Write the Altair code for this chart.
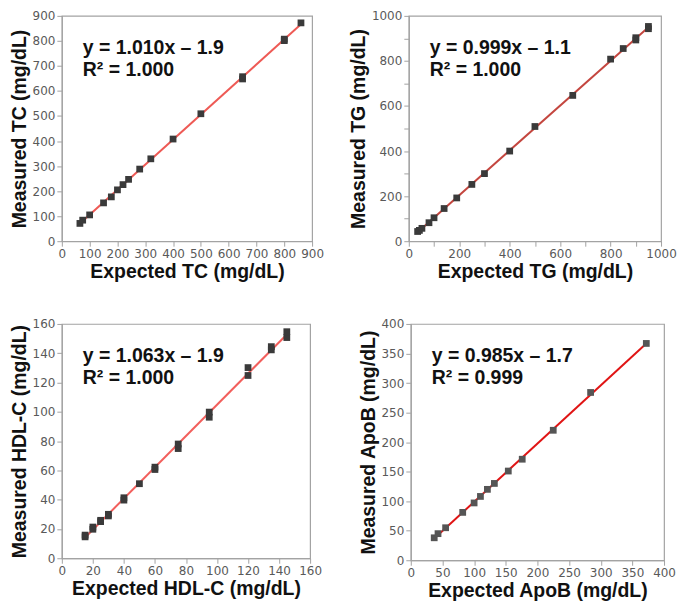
import altair as alt
import pandas as pd

# ---- data ----
tc_x = [65, 75, 100, 150, 178, 200, 220, 240, 280, 320, 400, 500, 650, 650, 800, 800, 860]
tc_y = [71, 84, 105, 153, 177, 205, 226, 247, 288, 329, 408, 509, 648, 657, 801, 807, 872]

tg_x = [35, 42, 52, 80, 100, 140, 190, 250, 300, 400, 500, 650, 800, 850, 900, 900, 950, 950]
tg_y = [43, 48, 57, 82, 104, 145, 192, 252, 300, 400, 509, 647, 808, 855, 893, 903, 943, 953]

hdl_x = [15, 15, 20, 20, 25, 25, 30, 30, 40, 40, 50, 60, 60, 75, 75, 95, 95,
         120, 120, 135, 135, 145, 145]
hdl_y = [14.6, 15.8, 19.8, 21.3, 25.0, 25.9, 28.9, 30.0, 39.7, 41.3, 50.9, 60.6, 62.2,
         74.9, 78.0, 96.3, 99.8, 124.8, 130.2, 142.3, 144.5, 150.7, 154.7]

apob_x = [37, 43, 55, 82, 100, 110, 121, 132, 154, 176, 225, 284, 372]
apob_y = [38, 45, 55, 81, 97, 108, 120, 130, 151, 171, 220, 284, 367]

titles_x = ["Expected TC (mg/dL)", "Expected TG (mg/dL)",
            "Expected HDL-C (mg/dL)", "Expected ApoB (mg/dL)"]
titles_y = ["Measured TC (mg/dL)", "Measured TG (mg/dL)",
            "Measured HDL-C (mg/dL)", "Measured ApoB (mg/dL)"]
eq_lines = [("y = 1.010x \u2013 1.9", "R\u00b2 = 1.000"),
            ("y = 0.999x \u2013 1.1", "R\u00b2 = 1.000"),
            ("y = 1.063x \u2013 1.9", "R\u00b2 = 1.000"),
            ("y = 0.985x \u2013 1.7", "R\u00b2 = 0.999")]

GRAY = "#a3a3a3"


def panel(xs, ys, dmax, step, labstep, xtitle, ytitle, eq, linecolor, ptcolor, w, h):
    df = pd.DataFrame({"x": xs, "y": ys})
    vals = list(range(0, dmax + 1, step))
    lab = f"datum.value % {labstep} == 0 ? datum.label : ''"
    common = dict(values=vals, labelExpr=lab, format="d", grid=False,
                  labelOverlap=False, labelFlush=False)
    xenc = alt.X("x:Q", scale=alt.Scale(domain=[0, dmax], nice=False),
                 axis=alt.Axis(title=xtitle, **common))
    yenc = alt.Y("y:Q", scale=alt.Scale(domain=[0, dmax], nice=False),
                 axis=alt.Axis(title=ytitle, **common))
    base = alt.Chart(df)
    line = base.transform_regression("x", "y").mark_line(
        color=linecolor, strokeWidth=2).encode(x=xenc, y=yenc)
    pts = base.mark_square(size=46, color=ptcolor, opacity=1).encode(x=xenc, y=yenc)
    layers = [line, pts]
    for t, yy in zip(eq, [38, 60]):
        layers.append(
            alt.Chart(pd.DataFrame({"t": [t]})).mark_text(
                align="left", baseline="alphabetic", font="Liberation Sans",
                fontWeight="bold", fontSize=19.5, color="#111111"
            ).encode(x=alt.value(21), y=alt.value(yy), text="t:N")
        )
    return alt.layer(*layers).properties(width=w, height=h)


tc = panel(tc_x, tc_y, 900, 100, 100, titles_x[0], titles_y[0], eq_lines[0],
           "#ee5a55", "#3a3a3a", 251, 226)
tg = panel(tg_x, tg_y, 1000, 100, 200, titles_x[1], titles_y[1], eq_lines[1],
           "#c4463f", "#3a3a3a", 253, 226)
hdl = panel(hdl_x, hdl_y, 160, 20, 20, titles_x[2], titles_y[2], eq_lines[2],
            "#f25f5c", "#3a3a3a", 249, 235)
apob = panel(apob_x, apob_y, 400, 50, 50, titles_x[3], titles_y[3], eq_lines[3],
             "#e01414", "#555555", 254, 237)

chart = alt.vconcat(
    alt.hconcat(tc, tg, spacing=22),
    alt.hconcat(hdl, apob, spacing=34),
    spacing=35,
).properties(padding=0).configure_view(
    stroke=GRAY, strokeWidth=1.2
).configure_axis(
    domainColor=GRAY, tickColor=GRAY, tickSize=5, domainWidth=1.2,
    labelColor="#595959", labelFont="DejaVu Sans", labelFontSize=12, labelPadding=2,
    titleFont="Liberation Sans", titleFontWeight="bold", titleFontSize=19.5,
    titleColor="#111111", titlePadding=3,
)

chart.save("out.html", embed_options={"renderer": "svg", "actions": False})
